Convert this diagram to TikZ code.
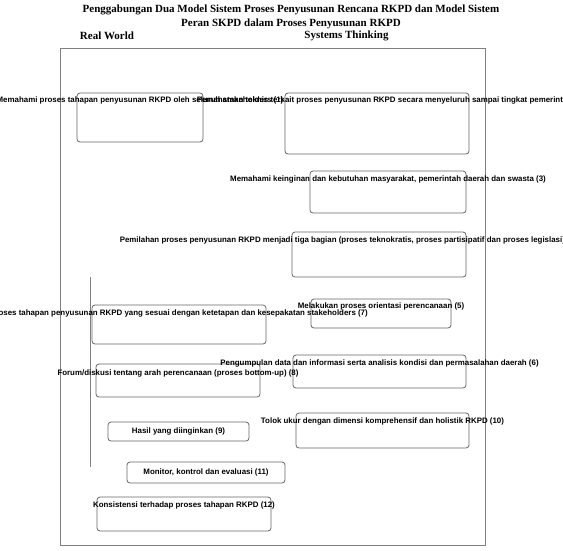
\documentclass[tikz,border=0pt]{standalone}
\usepackage{fontspec}
\setmainfont{Liberation Serif}
\newfontfamily\arialfont{Liberation Sans}
\usepackage{xcolor}
\usepackage{tikz}
\usetikzlibrary{positioning}

\begin{document}
\begin{tikzpicture}[
 x=1pt, y=-1pt,
 node distance=5pt,
 box/.style={rectangle, draw=black!60, line width=0.8pt, rounded corners=3pt, inner sep=0pt},
 lbl/.style={inner sep=0pt, font=\arialfont\bfseries\fontsize{7.9}{9}\selectfont},
 head/.style={inner sep=0pt, font=\bfseries\fontsize{11}{14}\selectfont, align=center},
 frame/.style={rectangle, draw=black!50, line width=0.8pt, inner sep=0pt, minimum width=425pt, minimum height=497pt}
 ]
 \useasboundingbox (0,0) rectangle (563,550);
 % Titles
 \node[head] (title) at (291,17) {Penggabungan Dua Model Sistem Proses Penyusunan Rencana RKPD dan Model Sistem\\Peran SKPD dalam Proses Penyusunan RKPD};
 \node[head] (real) at (107,36) {Real World};
 \node[head] (sys) at (346.5,36) {Systems Thinking};
 % Frame
 \node[frame] (world) at (272.5,296.5) {};
 \draw[black!50, line width=0.8pt] (90,277) -- (90,467);
 % Boxes
 \node[box, minimum width=126pt, minimum height=49pt] (b1) at (140,117.5) {};
 \node[box, minimum width=184pt, minimum height=61pt] (b2) at (377,123.5) {};
 \node[box, minimum width=156pt, minimum height=42pt] (b3) at (388,192) {};
 \node[box, minimum width=174pt, minimum height=45pt] (b4) at (379,254.5) {};
 \node[box, minimum width=140pt, minimum height=29pt] (b5) at (381,313.5) {};
 \node[box, minimum width=173pt, minimum height=33pt] (b6) at (379.5,371.5) {};
 \node[box, minimum width=174pt, minimum height=39pt] (b7) at (179,324.5) {};
 \node[box, minimum width=164pt, minimum height=33pt] (b8) at (178,380.5) {};
 \node[box, lbl, minimum width=141pt, minimum height=19pt] (b9) at (178.5,431.5) {Hasil yang diinginkan (9)};
 \node[box, minimum width=173pt, minimum height=35pt] (b10) at (382.5,430.5) {};
 \node[box, lbl, minimum width=158pt, minimum height=21pt] (b11) at (206,472.5) {Monitor, kontrol dan evaluasi (11)};
 \node[box, minimum width=174pt, minimum height=34pt] (b12) at (184,514) {};
 % Labels
 \node[lbl, below=4pt of b1.north] (t1) {Memahami proses tahapan penyusunan RKPD oleh seluruh stakeholders (1)};
 \node[lbl, below right=4pt and -88pt of b2.north west] (t2) {Pemahaman teknis terkait proses penyusunan RKPD secara menyeluruh sampai tingkat pemerintahan desa (2)};
 \node[lbl, below=of b3.north] (t3) {Memahami keinginan dan kebutuhan masyarakat, pemerintah daerah dan swasta (3)};
 \node[lbl, below right=5pt and -172pt of b4.north west] (t4) {Pemilahan proses penyusunan RKPD menjadi tiga bagian (proses teknokratis, proses partisipatif dan proses legislasi) (4)};
 \node[lbl, below=4pt of b5.north] (t5) {Melakukan proses orientasi perencanaan (5)};
 \node[lbl, below=of b6.north] (t6) {Pengumpulan data dan informasi serta analisis kondisi dan permasalahan daerah (6)};
 \node[lbl, below=of b7.north] (t7) {Proses tahapan penyusunan RKPD yang sesuai dengan ketetapan dan kesepakatan stakeholders (7)};
 \node[lbl, below=6pt of b8.north] (t8) {Forum/diskusi tentang arah perencanaan (proses bottom-up) (8)};
 \node[lbl, below=of b10.north] (t10) {Tolok ukur dengan dimensi komprehensif dan holistik RKPD (10)};
 \node[lbl, below=of b12.north] (t12) {Konsistensi terhadap proses tahapan RKPD (12)};
\end{tikzpicture}
\end{document}
